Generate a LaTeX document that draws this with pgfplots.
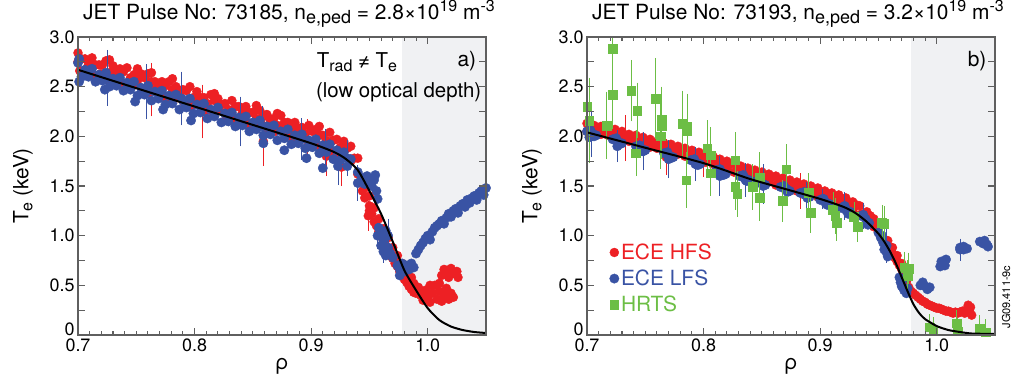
\documentclass[border=0pt]{standalone}
\usepackage{pgfplots}
\pgfplotsset{compat=1.18}
\usepackage{fontspec}
\setmainfont{TeX Gyre Heros}
\definecolor{ecered}{RGB}{237,32,36}
\definecolor{eceblue}{RGB}{57,83,164}
\definecolor{hrtsgreen}{RGB}{108,190,69}
\definecolor{shade}{RGB}{240,241,243}
\definecolor{axisgray}{RGB}{95,95,95}
\newcommand\sbx[3]{\raisebox{#2}{\fontsize{#1}{#1}\selectfont #3}}
\pgfplotsset{
  jetaxis/.style={
    scale only axis, width=408bp, height=298bp, anchor=south west,
    xmin=0.7, xmax=1.05, ymin=0, ymax=3,
    clip mode=individual,
    xtick={0.7,0.8,0.9,1.0}, xticklabels={0.7,0.8,0.9,1.0},
    minor x tick num=9,
    ytick={0.25,0.5,0.75,1,1.25,1.5,1.75,2,2.25,2.5,2.75,3},
    yticklabels={,0.5,,1.0,,1.5,,2.0,,2.5,,3.0},
    extra y ticks={0}, extra y tick labels={0},
    extra y tick style={yticklabel style={yshift=6bp}},
    tick align=inside, tick pos=both,
    major tick length=7bp, minor tick length=4bp,
    axis line style={axisgray, line width=1.3bp},
    every tick/.style={axisgray, line width=1.1bp},
    tick label style={font=\fontsize{18}{20}\selectfont, text=black},
    label style={font=\fontsize{21}{24}\selectfont},
    title style={font=\fontsize{21}{24}\selectfont, at={(0.5,1)}, anchor=base, yshift=12bp, xshift=7bp},
    xlabel={ρ},
    ylabel={T\sbx{16bp}{-4bp}{e} (keV)},
    ylabel style={at={(axis description cs:-0.135,0.5)}, anchor=center},
    axis on top,
    legend image code/.code={\draw[mark repeat=2,mark phase=2,#1] plot coordinates {(0cm,0cm) (0.12cm,0cm) (0.24cm,0cm)};},
  },
  redpts/.style={only marks, mark=*, color=ecered, mark size=4.5bp, mark options={fill=ecered, draw=ecered}},
  bluepts/.style={only marks, mark=*, color=eceblue, mark size=4.7bp, mark options={fill=eceblue, draw=eceblue}},
  greenpts/.style={only marks, mark=square*, color=hrtsgreen, mark size=4.3bp, mark options={fill=hrtsgreen, draw=hrtsgreen}},
  errs/.style={forget plot, error bars/.cd, y dir=both, y explicit,
    error bar style={line width=0.8bp, #1}, error mark options={#1, mark size=3bp, line width=0.8bp}},
}
\begin{document}
\begin{tikzpicture}
\useasboundingbox (0,0) rectangle (1014bp,380bp);
% ---------------- panel a ----------------
\begin{axis}[jetaxis, at={(78bp,45bp)},
  title={JET Pulse No: 73185, n\sbx{18bp}{-4bp}{e,ped} = 2.8×10\sbx{16bp}{8bp}{19} m\sbx{16bp}{8bp}{-3}}]
\addplot[fill=shade, draw=none, forget plot] coordinates {(0.978,0) (1.05,0) (1.05,3) (0.978,3) (0.978,0)};
% ECE HFS
\addplot[redpts, forget plot] coordinates {
(0.700,2.84)(0.706,2.78)(0.712,2.79)(0.718,2.72)(0.724,2.76)(0.730,2.71)(0.736,2.68)(0.742,2.69)(0.748,2.62)
(0.754,2.63)(0.760,2.63)(0.766,2.55)(0.772,2.55)(0.778,2.55)(0.784,2.50)(0.790,2.47)(0.796,2.50)(0.802,2.45)
(0.808,2.39)(0.814,2.42)(0.820,2.38)(0.826,2.33)(0.832,2.36)(0.838,2.30)(0.844,2.30)(0.850,2.24)(0.856,2.26)
(0.862,2.22)(0.868,2.18)(0.874,2.21)(0.880,2.14)(0.886,2.14)(0.892,2.09)(0.898,2.11)(0.904,2.07)(0.910,2.01)
(0.916,2.04)(0.922,1.97)(0.928,1.95)(0.934,1.90)(0.940,1.78)
(0.703,2.78)(0.709,2.72)(0.715,2.72)(0.721,2.72)(0.727,2.64)(0.733,2.65)(0.739,2.65)(0.745,2.59)(0.751,2.56)
(0.757,2.59)(0.763,2.55)(0.769,2.49)(0.775,2.51)(0.781,2.47)(0.787,2.43)(0.793,2.46)(0.799,2.39)(0.805,2.39)
(0.811,2.33)(0.817,2.36)(0.823,2.32)(0.829,2.27)(0.835,2.30)(0.841,2.24)(0.847,2.24)(0.853,2.18)(0.859,2.20)
(0.865,2.16)(0.871,2.11)(0.877,2.14)(0.883,2.08)(0.889,2.08)(0.895,2.03)(0.901,2.05)(0.907,2.02)(0.913,1.96)
(0.919,1.96)(0.925,1.89)(0.931,1.88)(0.937,1.78)
(0.7015,2.66)(0.7075,2.68)(0.7135,2.62)(0.7195,2.63)(0.7255,2.57)(0.7315,2.58)(0.7375,2.52)(0.7435,2.51)
(0.7495,2.52)(0.7555,2.46)(0.7615,2.44)(0.7675,2.45)(0.7735,2.40)(0.7795,2.37)(0.7855,2.39)(0.7915,2.33)
(0.7975,2.31)(0.8035,2.32)(0.8095,2.26)(0.8155,2.25)(0.8215,2.26)(0.8275,2.20)(0.8335,2.18)(0.8395,2.19)
(0.8455,2.13)(0.8515,2.11)(0.8575,2.12)(0.8635,2.06)(0.8695,2.05)(0.8755,2.06)(0.8815,2.00)(0.8875,1.98)
(0.8935,1.99)(0.8995,1.93)(0.9055,1.91)(0.9115,1.91)(0.9175,1.85)(0.9235,1.82)(0.928,1.80)(0.934,1.75)(0.940,1.62)
(0.727,2.77)(0.751,2.68)(0.763,2.64)(0.781,2.58)(0.817,2.43)(0.853,2.31)(0.871,2.23)(0.907,2.10)
(0.944,1.55)(0.944,1.45)(0.946,1.48)(0.946,1.38)(0.948,1.50)(0.950,1.40)(0.950,1.30)(0.950,1.25)
(0.952,1.22)(0.954,1.28)(0.954,1.14)(0.956,1.10)(0.958,1.17)(0.958,1.04)(0.960,1.00)(0.962,1.07)(0.962,0.95)
(0.964,0.90)(0.966,0.98)(0.966,0.86)(0.968,0.80)(0.970,0.88)(0.970,0.77)(0.972,0.72)(0.974,0.80)(0.974,0.69)
(0.976,0.64)(0.978,0.72)(0.978,0.61)(0.980,0.56)(0.982,0.64)(0.982,0.53)(0.984,0.49)(0.986,0.58)(0.986,0.46)
(0.988,0.43)(0.990,0.42)(0.988,0.52)(0.992,0.48)(0.994,0.40)(0.996,0.35)(0.998,0.45)(1.000,0.38)(1.002,0.33)
(1.004,0.42)(1.006,0.50)(1.008,0.36)(1.010,0.44)(1.012,0.34)(1.014,0.40)(1.016,0.47)(1.018,0.36)(1.020,0.42)
(1.022,0.38)(1.002,0.50)(0.998,0.36)(1.010,0.52)
(1.012,0.60)(1.016,0.65)(1.018,0.58)(1.020,0.67)(1.022,0.62)(1.025,0.64)(1.026,0.58)(1.014,0.66)
};
\addplot[redpts, errs=ecered] coordinates {
(0.700,2.75) +- (0,0.25) (0.763,2.47) +- (0,0.24) (0.807,2.25) +- (0,0.24) (0.859,1.95) +- (0,0.22)
(0.897,1.96) +- (0,0.18) (0.913,1.80) +- (0,0.17) (0.926,1.69) +- (0,0.16) (0.949,1.20) +- (0,0.12)
};
% ECE LFS
\addplot[bluepts, forget plot] coordinates {
(0.701,2.78)(0.701,2.55)
(0.700,2.74)(0.706,2.67)(0.712,2.68)(0.718,2.62)(0.724,2.64)(0.730,2.58)(0.736,2.59)(0.742,2.54)(0.748,2.55)
(0.754,2.49)(0.760,2.51)(0.766,2.45)(0.772,2.46)(0.778,2.41)(0.784,2.42)(0.790,2.36)(0.796,2.38)(0.802,2.32)
(0.808,2.33)(0.814,2.27)(0.820,2.29)(0.826,2.23)(0.832,2.24)(0.838,2.19)(0.844,2.20)(0.850,2.14)(0.856,2.16)
(0.862,2.10)(0.868,2.11)(0.874,2.05)(0.880,2.07)(0.886,2.01)(0.892,2.02)(0.898,1.96)(0.904,1.97)(0.910,1.91)
(0.916,1.92)(0.922,1.86)(0.928,1.84)(0.934,1.77)
(0.703,2.60)(0.709,2.60)(0.715,2.55)(0.721,2.56)(0.727,2.50)(0.733,2.51)(0.739,2.46)(0.745,2.47)(0.751,2.41)
(0.757,2.42)(0.763,2.36)(0.769,2.38)(0.775,2.32)(0.781,2.33)(0.787,2.27)(0.793,2.29)(0.799,2.23)(0.805,2.24)
(0.811,2.18)(0.817,2.20)(0.823,2.14)(0.829,2.15)(0.835,2.10)(0.841,2.11)(0.847,2.05)(0.853,2.07)(0.859,2.01)
(0.865,2.02)(0.871,1.96)(0.877,1.98)(0.883,1.92)(0.889,1.93)(0.895,1.88)(0.901,1.89)(0.907,1.83)(0.913,1.84)
(0.919,1.77)(0.925,1.76)(0.931,1.70)
(0.723,2.47)(0.749,2.35)(0.773,2.27)(0.797,2.16)(0.859,1.93)(0.877,1.86)(0.896,1.78)(0.910,1.68)
(0.940,1.64)(0.944,1.58)(0.946,1.52)(0.948,1.60)(0.950,1.55)(0.952,1.50)(0.954,1.56)(0.956,1.45)(0.955,1.61)(0.957,1.37)
(0.958,1.08)(0.960,1.00)(0.962,0.95)(0.964,1.05)(0.966,0.88)(0.968,0.82)(0.970,0.78)(0.964,0.80)(0.960,0.90)
(0.974,0.70)(0.976,0.66)(0.978,0.72)(0.980,0.64)(0.982,0.70)(0.984,0.66)(0.986,0.72)(0.988,0.68)(0.976,0.60)
(0.990,0.82)(0.992,0.86)(0.994,0.90)(0.996,0.93)(0.998,0.97)(1.000,1.00)(1.002,0.96)(1.004,1.04)(1.006,1.08)
(1.008,1.10)(1.010,1.12)(1.012,1.15)(1.014,1.12)(1.016,1.18)(1.018,1.22)(1.020,1.19)(1.022,1.25)(1.024,1.27)
(1.026,1.23)(1.028,1.30)(1.030,1.32)(1.032,1.29)(1.034,1.36)(1.036,1.33)(1.038,1.38)(1.040,1.40)(1.042,1.36)
(1.044,1.43)(1.046,1.45)(1.048,1.41)(1.050,1.48)
};
\addplot[bluepts, errs=eceblue] coordinates {
(0.725,2.59) +- (0,0.25) (0.759,2.45) +- (0,0.25) (0.789,2.38) +- (0,0.24) (0.839,2.15) +- (0,0.22)
(0.858,2.10) +- (0,0.18) (0.892,1.97) +- (0,0.18) (0.912,1.88) +- (0,0.16) (0.923,1.70) +- (0,0.16)
(0.931,1.78) +- (0,0.15) (0.940,1.53) +- (0,0.15) (0.957,1.00) +- (0,0.10) (0.962,0.84) +- (0,0.08)
(0.966,1.00) +- (0,0.14)
};
% fit
\addplot[black, line width=2bp, smooth, tension=0.4, no marks, forget plot] coordinates {
(0.70,2.67)(0.75,2.485)(0.80,2.30)(0.85,2.115)(0.90,1.93)(0.92,1.84)(0.93,1.77)(0.94,1.66)
(0.95,1.45)(0.96,1.22)(0.97,0.94)(0.98,0.65)(0.99,0.45)(1.00,0.27)(1.01,0.15)(1.02,0.085)
(1.03,0.05)(1.04,0.03)(1.05,0.02)};
\node[anchor=west, inner sep=0pt, font=\fontsize{20.5}{24}\selectfont] at (rel axis cs:0.585,0.915) {T\sbx{16bp}{-4bp}{rad} ≠ T\sbx{16bp}{-4bp}{e}};
\node[anchor=west, inner sep=0pt, font=\fontsize{20.5}{24}\selectfont] at (rel axis cs:0.583,0.815) {(low optical depth)};
\node[font=\fontsize{21}{24}\selectfont] at (rel axis cs:0.953,0.919) {a)};
\end{axis}
% ---------------- panel b ----------------
\begin{axis}[jetaxis, at={(587bp,45bp)},
  title={JET Pulse No: 73193, n\sbx{18bp}{-4bp}{e,ped} = 3.2×10\sbx{16bp}{8bp}{19} m\sbx{16bp}{8bp}{-3}},
  legend style={at={(0.055,0.313)}, anchor=north west, draw=none, fill=none,
    font=\fontsize{21}{24}\selectfont, row sep=5bp, inner sep=0pt},
  legend cell align=left]
\addplot[fill=shade, draw=none, forget plot] coordinates {(0.978,0) (1.05,0) (1.05,3) (0.978,3) (0.978,0)};
% ECE HFS
\addplot[redpts] coordinates {
(0.700,2.13)(0.700,2.05)(0.706,2.11)(0.706,2.04)(0.712,2.10)(0.712,2.02)(0.718,2.08)(0.718,2.01)
(0.724,2.07)(0.724,1.98)(0.730,2.05)(0.730,1.96)(0.736,2.02)(0.736,1.95)(0.742,2.01)(0.742,1.93)
(0.748,1.99)(0.748,1.91)(0.754,1.97)(0.754,1.89)(0.760,1.95)(0.760,1.88)(0.766,1.93)(0.766,1.86)
(0.772,1.92)(0.772,1.83)(0.778,1.90)(0.778,1.82)(0.784,1.88)(0.784,1.80)(0.790,1.86)(0.790,1.78)
(0.796,1.84)(0.796,1.77)(0.802,1.82)(0.802,1.74)(0.808,1.80)(0.808,1.72)(0.814,1.77)(0.814,1.70)
(0.820,1.75)(0.820,1.67)(0.826,1.73)(0.826,1.64)(0.832,1.70)(0.832,1.62)(0.838,1.68)(0.838,1.60)
(0.844,1.66)(0.844,1.58)(0.850,1.64)(0.850,1.55)(0.856,1.62)(0.856,1.54)(0.862,1.60)(0.862,1.51)
(0.868,1.58)(0.868,1.49)(0.874,1.56)(0.874,1.47)(0.880,1.54)(0.880,1.45)(0.886,1.52)(0.886,1.43)
(0.892,1.50)(0.892,1.41)(0.898,1.48)(0.898,1.39)(0.904,1.45)(0.904,1.37)(0.910,1.43)(0.910,1.35)
(0.916,1.41)(0.916,1.32)(0.922,1.38)(0.922,1.30)(0.928,1.34)(0.928,1.26)(0.934,1.30)(0.934,1.21)
(0.940,1.24)(0.940,1.16)(0.946,1.17)(0.946,1.09)(0.950,1.12)(0.950,1.04)
(0.703,2.10)(0.709,2.05)(0.715,2.07)(0.721,2.02)(0.727,2.03)(0.733,1.98)(0.739,1.99)(0.745,1.94)
(0.751,1.96)(0.757,1.90)(0.763,1.92)(0.769,1.87)(0.775,1.88)(0.781,1.83)(0.787,1.85)(0.793,1.79)
(0.799,1.81)(0.805,1.75)(0.811,1.77)(0.817,1.71)(0.823,1.72)(0.829,1.66)(0.835,1.67)(0.841,1.61)
(0.847,1.63)(0.853,1.57)(0.859,1.59)(0.865,1.53)(0.871,1.54)(0.877,1.49)(0.883,1.50)(0.889,1.45)
(0.895,1.46)(0.901,1.41)(0.907,1.42)(0.913,1.36)(0.919,1.37)(0.925,1.31)(0.931,1.31)(0.937,1.22)(0.943,1.20)
(0.952,1.00)(0.954,0.98)(0.956,0.94)(0.958,0.90)(0.960,0.85)(0.962,0.82)(0.964,0.78)(0.966,0.74)
(0.968,0.70)(0.970,0.66)(0.972,0.60)(0.974,0.54)(0.976,0.48)(0.958,0.95)(0.962,0.88)(0.966,0.80)(0.970,0.72)
(0.978,0.44)(0.980,0.42)(0.982,0.40)(0.984,0.38)(0.986,0.36)(0.988,0.34)(0.990,0.33)(0.992,0.31)
(0.994,0.30)(0.996,0.29)(0.998,0.28)(1.000,0.27)(1.002,0.27)(1.004,0.26)(1.006,0.25)(1.008,0.24)
(1.010,0.24)(1.012,0.23)(1.014,0.22)(1.016,0.23)(1.018,0.22)(1.020,0.23)(1.022,0.24)(1.024,0.22)
(1.026,0.26)(1.027,0.30)(1.028,0.24)(1.029,0.28)(1.030,0.20)
};
\addlegendentry{\textcolor{ecered}{ECE HFS}}
\addplot[redpts, errs=ecered] coordinates {
(0.733,1.98) +- (0,0.20) (0.768,1.79) +- (0,0.15) (0.800,1.74) +- (0,0.12) (0.883,1.45) +- (0,0.15)
(0.928,1.26) +- (0,0.08)
};
% ECE LFS
\addplot[bluepts] coordinates {
(0.700,2.05)(0.704,2.03)(0.708,2.01)(0.703,2.06)(0.706,2.00)(0.702,1.99)
(0.722,1.97)(0.726,1.95)(0.730,1.93)(0.725,1.98)(0.728,1.92)
(0.742,1.90)(0.746,1.88)(0.750,1.86)(0.745,1.91)(0.748,1.85)
(0.766,1.83)(0.770,1.81)(0.774,1.79)(0.769,1.84)(0.772,1.78)
(0.789,1.76)(0.793,1.74)(0.797,1.72)(0.792,1.77)(0.795,1.71)
(0.811,1.66)(0.815,1.64)(0.819,1.62)(0.814,1.67)(0.817,1.61)
(0.831,1.60)(0.835,1.58)(0.839,1.56)(0.834,1.61)(0.837,1.55)
(0.845,1.55)(0.849,1.53)(0.853,1.51)(0.848,1.56)(0.851,1.50)
(0.866,1.49)(0.870,1.47)(0.874,1.45)(0.869,1.50)(0.872,1.44)
(0.883,1.43)(0.887,1.41)(0.891,1.39)(0.886,1.44)(0.889,1.38)
(0.900,1.36)(0.904,1.34)(0.908,1.32)(0.903,1.37)(0.906,1.31)
(0.918,1.28)(0.922,1.26)(0.926,1.24)(0.921,1.29)(0.924,1.22)
(0.935,1.20)(0.939,1.17)(0.942,1.13)(0.937,1.21)(0.941,1.11)
(0.950,1.03)(0.952,0.98)(0.954,0.93)(0.956,0.88)(0.957,0.83)(0.958,0.79)(0.953,1.00)(0.955,0.86)
(0.968,0.58)(0.969,0.53)(0.970,0.49)(0.972,0.45)(0.974,0.42)(0.971,0.56)(0.975,0.47)
(0.986,0.50)(0.990,0.49)(0.994,0.48)(0.988,0.53)(0.992,0.46)
(1.003,0.69)(1.006,0.73)(1.008,0.76)(1.004,0.74)(1.007,0.70)
(1.020,0.88)(1.023,0.89)(1.026,0.87)(1.023,0.86)
(1.037,0.94)(1.040,0.92)(1.043,0.91)(1.041,0.95)(1.044,0.89)
};
\addlegendentry{\textcolor{eceblue}{ECE LFS}}
\addplot[bluepts, errs=eceblue] coordinates {
(0.704,2.03) +- (0,0.21) (0.726,1.90) +- (0,0.13) (0.748,1.85) +- (0,0.16) (0.770,1.77) +- (0,0.16)
(0.793,1.72) +- (0,0.14) (0.814,1.60) +- (0,0.17) (0.836,1.56) +- (0,0.14) (0.851,1.52) +- (0,0.17)
(0.871,1.47) +- (0,0.13) (0.888,1.41) +- (0,0.10) (0.902,1.37) +- (0,0.07) (0.921,1.30) +- (0,0.11)
(0.937,1.20) +- (0,0.10) (0.957,0.90) +- (0,0.14) (1.020,0.86) +- (0,0.08)
};
% HRTS
\addplot[greenpts, error bars/.cd, y dir=both, y explicit,
  error bar style={line width=0.8bp, hrtsgreen}, error mark options={hrtsgreen, mark size=3bp, line width=0.8bp}] coordinates {
(0.700,2.30) +- (0,0.40) (0.702,2.16) +- (0,0.40) (0.717,2.11) +- (0,0.31) (0.722,2.88) +- (0,0.35)
(0.722,2.42) +- (0,0.32) (0.738,2.46) +- (0,0.28) (0.743,2.26) +- (0,0.25) (0.742,1.83) +- (0,0.20)
(0.759,2.38) +- (0,0.38) (0.764,2.17) +- (0,0.30) (0.763,2.00) +- (0,0.30) (0.764,2.10) +- (0,0.30)
(0.782,2.13) +- (0,0.30) (0.786,2.10) +- (0,0.30) (0.786,2.05) +- (0,0.30) (0.785,1.56) +- (0,0.25)
(0.803,1.88) +- (0,0.25) (0.806,1.81) +- (0,0.25) (0.806,1.63) +- (0,0.20) (0.827,1.76) +- (0,0.25)
(0.827,1.49) +- (0,0.20) (0.829,1.42) +- (0,0.20) (0.842,1.49) +- (0,0.20) (0.848,1.59) +- (0,0.22)
(0.848,1.38) +- (0,0.20) (0.871,1.67) +- (0,0.22) (0.868,1.35) +- (0,0.18) (0.890,1.43) +- (0,0.17)
(0.892,1.23) +- (0,0.17) (0.911,1.26) +- (0,0.15) (0.913,1.20) +- (0,0.15) (0.914,1.13) +- (0,0.15)
(0.929,1.19) +- (0,0.12) (0.932,1.09) +- (0,0.12) (0.953,1.13) +- (0,0.15) (0.955,1.12) +- (0,0.15)
(0.972,0.68) +- (0,0.13) (0.976,0.67) +- (0,0.13) (0.975,0.60) +- (0,0.12) (0.994,0.08) +- (0,0.10)
(0.997,0.05) +- (0,0.10) (1.017,0.12) +- (0,0.10) (1.018,0.04) +- (0,0.10) (1.037,0.07) +- (0,0.10)
(1.042,0.03) +- (0,0.10)
};
\addlegendentry{\textcolor{hrtsgreen}{HRTS}}
% fit
\addplot[black, line width=2bp, smooth, tension=0.4, no marks, forget plot] coordinates {
(0.70,2.04)(0.75,1.885)(0.80,1.73)(0.84,1.57)(0.87,1.47)(0.90,1.37)(0.92,1.29)(0.93,1.23)
(0.94,1.14)(0.95,1.02)(0.955,0.94)(0.96,0.84)(0.965,0.72)(0.97,0.58)(0.975,0.44)(0.98,0.31)
(0.985,0.22)(0.99,0.16)(1.00,0.09)(1.01,0.05)(1.02,0.03)(1.03,0.015)(1.05,0.01)};
\node[font=\fontsize{21}{24}\selectfont] at (rel axis cs:0.956,0.919) {b)};
\end{axis}
\node[rotate=90, font=\fontsize{11}{12}\selectfont] at (1006bp,83bp) {JG09.411-9c};
\end{tikzpicture}
\end{document}
